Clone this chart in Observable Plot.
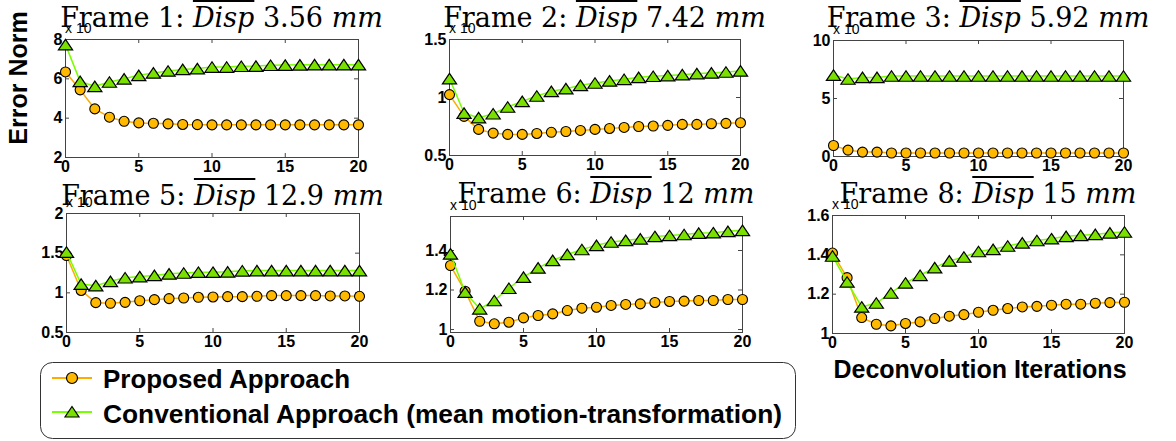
<!DOCTYPE html>
<html><head><meta charset="utf-8">
<script src="https://cdn.jsdelivr.net/npm/d3@7"></script>
<script src="https://cdn.jsdelivr.net/npm/@observablehq/plot@0.6"></script>
<style>
body{margin:0;background:#fff;}
#root{position:relative;width:1176px;height:441px;background:#fff;overflow:hidden;}
.panel{position:absolute;}
.title{position:absolute;transform:translateX(-50%);font:27px "DejaVu Serif",serif;line-height:27px;white-space:nowrap;color:#000;z-index:3;}
.title .ov{font-style:italic;text-decoration:overline;text-decoration-thickness:2px;}
.title i{font-style:italic;}
.mult{position:absolute;font:14px "Liberation Sans",Arial,sans-serif;line-height:14px;color:#000;z-index:2;}
.lab{position:absolute;font:bold 25px "Liberation Sans",Arial,sans-serif;white-space:nowrap;color:#000;}
</style></head>
<body><div id="root"></div>
<script>
// ---- data ----
const iterations = [0,1,2,3,4,5,6,7,8,9,10,11,12,13,14,15,16,17,18,19,20];
const xTicks = [0,5,10,15,20];

const frameNames = ["Frame 1:", "Frame 2:", "Frame 3:", "Frame 5:", "Frame 6:", "Frame 8:"];
const dispValues = ["3.56", "7.42", "5.92", "12.9", "12", "15"];

const proposed1 = [6.35,5.44,4.47,4.05,3.84,3.76,3.74,3.71,3.68,3.67,3.66,3.66,3.66,3.66,3.66,3.66,3.66,3.66,3.66,3.66,3.66];
const conventional1 = [7.74,5.87,5.62,5.84,6.0,6.18,6.3,6.4,6.48,6.52,6.6,6.6,6.64,6.65,6.69,6.7,6.71,6.72,6.72,6.72,6.72];

const proposed2 = [1.025,0.837,0.725,0.693,0.682,0.682,0.69,0.70,0.707,0.716,0.725,0.733,0.742,0.75,0.754,0.76,0.768,0.768,0.774,0.777,0.782];
const conventional2 = [1.163,0.866,0.826,0.86,0.918,0.967,1.013,1.053,1.076,1.105,1.125,1.143,1.157,1.174,1.183,1.189,1.197,1.206,1.212,1.22,1.229];

const proposed3 = [0.95,0.55,0.38,0.38,0.3,0.3,0.3,0.3,0.3,0.3,0.3,0.3,0.3,0.3,0.3,0.3,0.3,0.3,0.3,0.3,0.3];
const conventional3 = [7.02,6.68,6.82,6.82,6.94,6.94,6.94,6.94,6.94,6.94,6.94,6.94,6.94,6.94,6.94,6.94,6.94,6.94,6.94,6.94,6.94];

const proposed5 = [1.47,1.03,0.876,0.868,0.88,0.90,0.914,0.927,0.935,0.944,0.948,0.952,0.952,0.956,0.965,0.965,0.965,0.965,0.961,0.961,0.956];
const conventional5 = [1.514,1.11,1.09,1.145,1.19,1.205,1.22,1.24,1.25,1.26,1.26,1.265,1.278,1.28,1.28,1.28,1.28,1.28,1.28,1.28,1.28];

const proposed6 = [1.324,1.194,1.042,1.029,1.037,1.059,1.071,1.079,1.096,1.108,1.113,1.122,1.127,1.13,1.137,1.142,1.144,1.147,1.147,1.152,1.152];
const conventional6 = [1.383,1.189,1.105,1.147,1.209,1.265,1.312,1.35,1.38,1.405,1.426,1.443,1.451,1.459,1.471,1.476,1.481,1.488,1.49,1.497,1.502];

const proposed8 = [1.409,1.284,1.081,1.047,1.039,1.051,1.059,1.076,1.088,1.096,1.108,1.118,1.127,1.135,1.138,1.144,1.149,1.149,1.154,1.157,1.159];
const conventional8 = [1.394,1.262,1.135,1.155,1.206,1.257,1.296,1.335,1.369,1.389,1.417,1.428,1.445,1.461,1.473,1.482,1.494,1.499,1.504,1.512,1.516];

const yDomains = [[2,8],[0.5,1.5],[0,10],[0.5,2],[0.985,1.572],[1,1.6]];
const yTickSets = [[2,4,6,8],[0.5,1,1.5],[0,5,10],[0.5,1,1.5,2],[1,1.2,1.4],[1,1.2,1.4,1.6]];
const proposedSeries = [proposed1,proposed2,proposed3,proposed5,proposed6,proposed8];
const conventionalSeries = [conventional1,conventional2,conventional3,conventional5,conventional6,conventional8];

const legendLabels = ["Proposed Approach", "Conventional Approach (mean motion-transformation)"];

// ---- layout / style ----
const frames = [
  {left:65, top:39, w:293, h:118},
  {left:449, top:39, w:291, h:116},
  {left:833, top:40, w:290, h:116},
  {left:66, top:213, w:293, h:119},
  {left:450, top:216, w:292, h:116},
  {left:832, top:215, w:292, h:118}
];
const titleBaselines = [27, 27, 27, 205, 203, 203];
const orangeFill = "#FFB900", orangeLine = "#FFAA00";
const greenFill = "#7AE000", greenLine = "#78FF00";
const ml = 40, mr = 8, mt = 8, mb = 26;

// MATLAB-like '^' marker: a slightly wide triangle centred on its box
const wideTriangle = {
  draw(context, size) {
    const r = Math.sqrt(size / Math.PI);
    const w = r * 1.42, h = r * 1.05;
    context.moveTo(0, -h);
    context.lineTo(w, h);
    context.lineTo(-w, h);
    context.closePath();
  }
};

const root = document.getElementById("root");

frames.forEach((f, i) => {
  const prop = iterations.map((x, j) => ({x, y: proposedSeries[i][j]}));
  const conv = iterations.map((x, j) => ({x, y: conventionalSeries[i][j]}));
  const yt = yTickSets[i];
  const chart = Plot.plot({
    width: f.w + ml + mr,
    height: f.h + mt + mb,
    marginLeft: ml, marginRight: mr, marginTop: mt, marginBottom: mb,
    x: {domain: [0, 20]},
    y: {domain: yDomains[i]},
    style: {background: "transparent", fontFamily: "'Liberation Sans', Arial, sans-serif", fontSize: "16px", fontWeight: "bold", color: "black", overflow: "visible"},
    marks: [
      Plot.frame({stroke: "#444", strokeWidth: 1}),
      Plot.ruleX(xTicks, {insetTop: f.h - 4, stroke: "#444"}),
      Plot.ruleX(xTicks, {insetBottom: f.h - 4, stroke: "#444"}),
      Plot.ruleY(yt, {insetRight: f.w - 4, stroke: "#444"}),
      Plot.ruleY(yt, {insetLeft: f.w - 4, stroke: "#444"}),
      Plot.axisX({ticks: xTicks, tickSize: 0, tickPadding: 3, label: null, fontSize: 16, tickFormat: d => String(d)}),
      Plot.axisY({ticks: yt, tickSize: 0, tickPadding: 3, label: null, fontSize: 16, tickFormat: d => String(d)}),
      Plot.line(prop, {x: "x", y: "y", stroke: orangeLine, strokeWidth: 1.5}),
      Plot.dot(prop, {x: "x", y: "y", r: 5, fill: orangeFill, stroke: "#000", strokeWidth: 1.1}),
      Plot.line(conv, {x: "x", y: "y", stroke: greenLine, strokeWidth: 1.5}),
      Plot.dot(conv, {x: "x", y: "y", symbol: wideTriangle, r: 5, fill: greenFill, stroke: "#000", strokeWidth: 1.2})
    ]
  });
  chart.classList.add("panel");
  chart.style.left = (f.left - ml) + "px";
  chart.style.top = (f.top - mt) + "px";
  root.appendChild(chart);

  const m = document.createElement("div");
  m.className = "mult";
  m.textContent = "x 10";
  m.style.left = f.left + "px";
  m.style.top = (f.top - 18) + "px";
  root.appendChild(m);

  const t = document.createElement("div");
  t.className = "title";
  t.innerHTML = frameNames[i] + " <span class='ov'>Disp</span> " + dispValues[i] + " <i>mm</i>";
  t.style.left = (f.left + f.w / 2 + 10) + "px";
  t.style.top = (titleBaselines[i] - 23) + "px";
  root.appendChild(t);
});

// axis labels
const yl = document.createElement("div");
yl.className = "lab";
yl.textContent = "Error Norm";
yl.style.left = "18px"; yl.style.top = "78px";
yl.style.transform = "translate(-50%,-50%) rotate(-90deg)";
root.appendChild(yl);

const xl = document.createElement("div");
xl.className = "lab";
xl.textContent = "Deconvolution Iterations";
xl.style.left = "980px"; xl.style.top = "355px";
xl.style.transform = "translateX(-50%)";
root.appendChild(xl);

// legend
const ns = "http://www.w3.org/2000/svg";
const lg = document.createElementNS(ns, "svg");
lg.setAttribute("width", 810); lg.setAttribute("height", 91);
lg.style.position = "absolute"; lg.style.left = "0px"; lg.style.top = "350px";
lg.innerHTML = `
<rect x="40.5" y="12.5" width="755" height="76" rx="12" fill="#fff" stroke="#333" stroke-width="1"/>
<line x1="52" x2="92" y1="28" y2="28" stroke="${orangeLine}" stroke-width="2"/>
<circle cx="72" cy="28" r="5.5" fill="${orangeFill}" stroke="#000" stroke-width="1.2"/>
<text x="103" y="38" font-family="'Liberation Sans', Arial, sans-serif" font-weight="bold" font-size="25" textLength="247" lengthAdjust="spacingAndGlyphs">${legendLabels[0]}</text>
<line x1="52" x2="92" y1="62" y2="62" stroke="${greenLine}" stroke-width="2"/>
<path d="M72,56.5 L79,67 L65,67 Z" fill="${greenFill}" stroke="#000" stroke-width="1.2"/>
<text x="103" y="73" font-family="'Liberation Sans', Arial, sans-serif" font-weight="bold" font-size="25" textLength="679" lengthAdjust="spacingAndGlyphs">${legendLabels[1]}</text>`;
root.appendChild(lg);
</script>
</body></html>
